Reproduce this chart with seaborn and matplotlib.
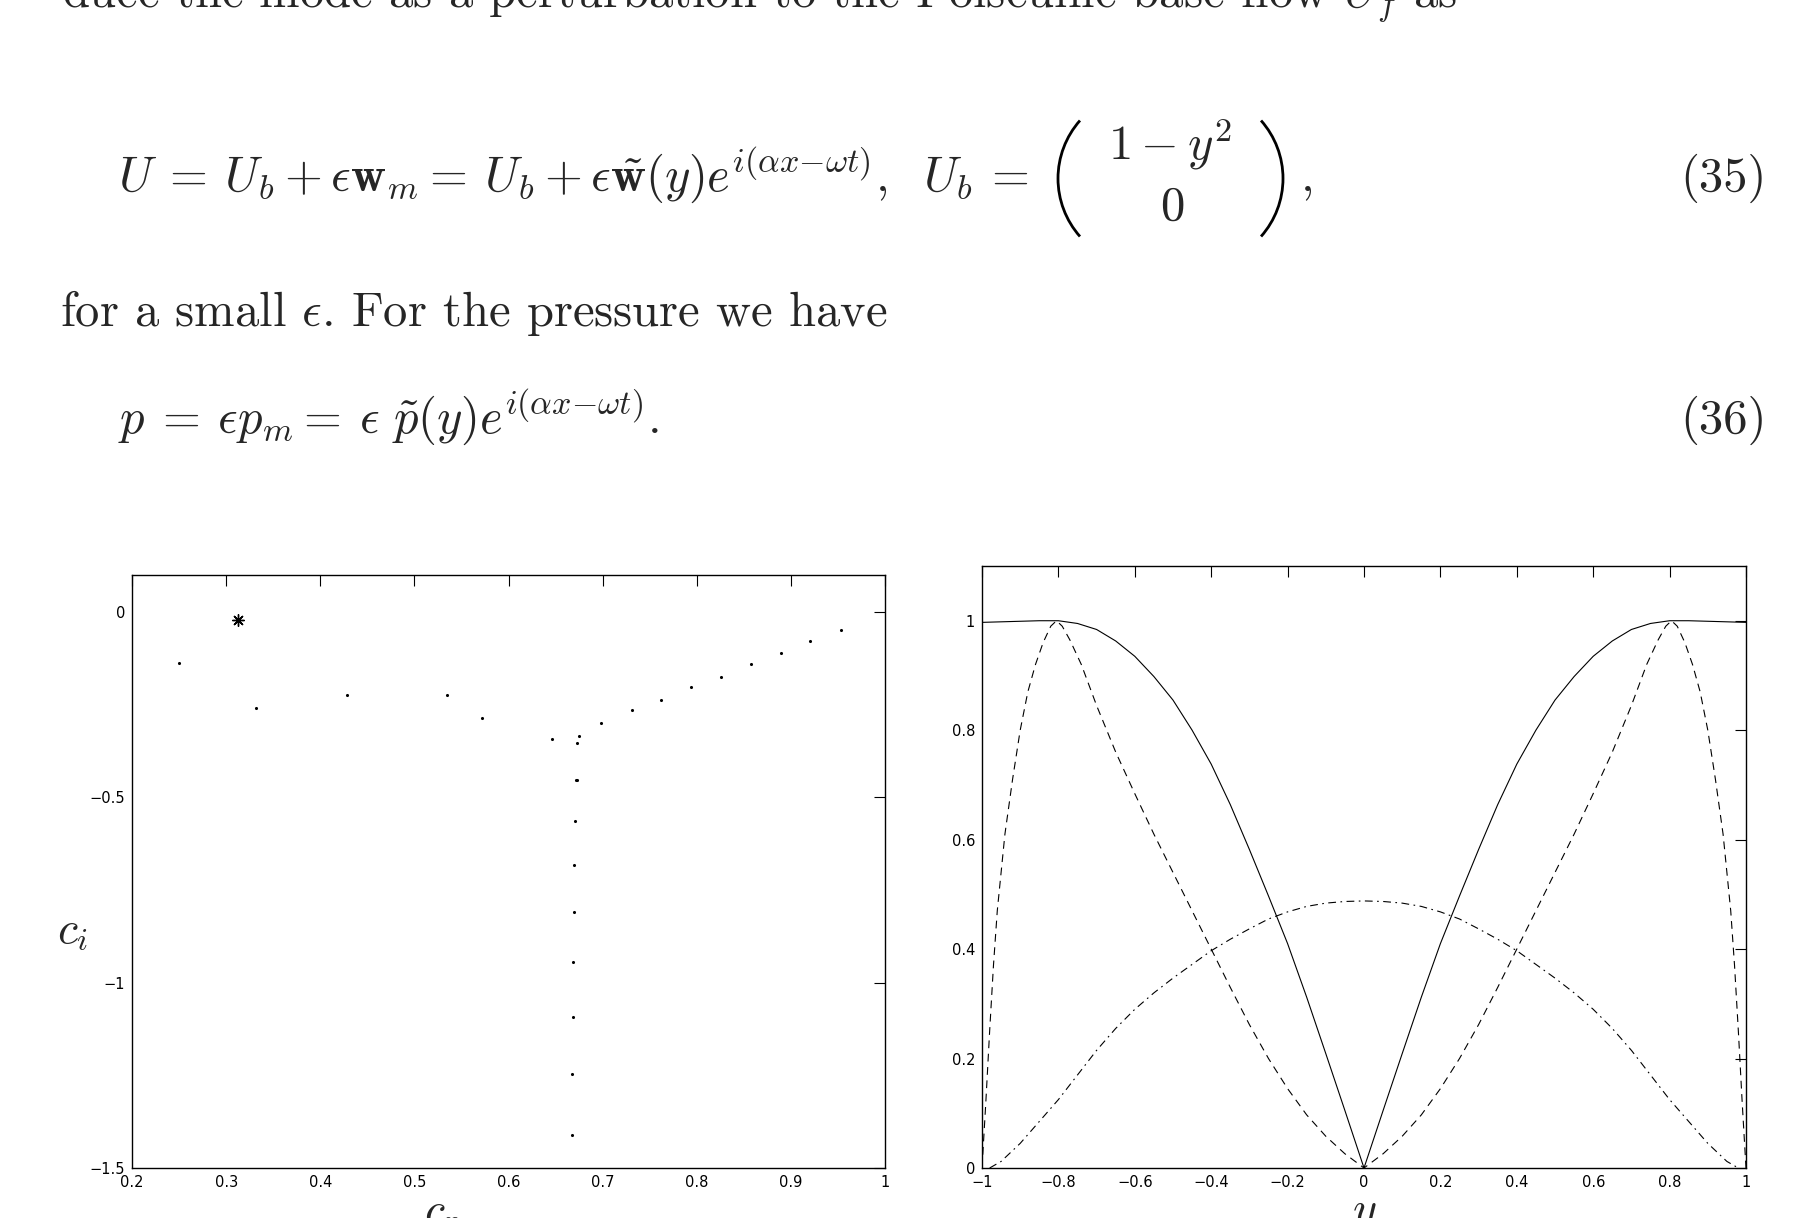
import matplotlib
matplotlib.use('Agg')
import matplotlib.pyplot as plt
import pandas as pd
import seaborn as sns
from matplotlib.patches import Arc
from matplotlib.ticker import FuncFormatter

W, H = 1796, 1218

# Left panel: eigenvalue spectrum (c_r, c_i)
cr_modes = [0.2501, 0.3316, 0.4288, 0.5342, 0.5715, 0.6466, 0.6745, 0.6728,
            0.6984, 0.7316, 0.7624, 0.7939, 0.8259, 0.8573, 0.8894, 0.9208,
            0.9528, 0.6714, 0.6732, 0.6710, 0.6699, 0.6693, 0.6687, 0.6681,
            0.6675, 0.6675]
ci_modes = [-0.1379, -0.2599, -0.2249, -0.2237, -0.2859, -0.3412, -0.3333,
            -0.3537, -0.2983, -0.2633, -0.2384, -0.2023, -0.1740, -0.1401,
            -0.1107, -0.0780, -0.0475, -0.4531, -0.4531, -0.5643, -0.6823,
            -0.8088, -0.9449, -1.0920, -1.2472, -1.4109]
cr_star = [0.3124]
ci_star = [-0.0215]

# Right panel: eigenfunction moduli against y
y_solid = [-1.0, -0.95, -0.9, -0.85, -0.8, -0.75, -0.7, -0.65, -0.6, -0.55,
           -0.5, -0.45, -0.4, -0.35, -0.3, -0.25, -0.2, -0.15, -0.1, -0.05,
           0.0, 0.05, 0.1, 0.15, 0.2, 0.25, 0.3, 0.35, 0.4, 0.45, 0.5, 0.55,
           0.6, 0.65, 0.7, 0.75, 0.8, 0.85, 0.9, 0.95, 1.0]
u_solid = [0.997, 0.998, 0.999, 1.0, 1.0, 0.995, 0.984, 0.963, 0.935, 0.898,
           0.855, 0.800, 0.738, 0.664, 0.582, 0.497, 0.410, 0.312, 0.209,
           0.105, 0.0, 0.105, 0.209, 0.312, 0.410, 0.497, 0.582, 0.664, 0.738,
           0.800, 0.855, 0.898, 0.935, 0.963, 0.984, 0.995, 1.0, 1.0, 0.999,
           0.998, 0.997]

y_dashed = [-1.0, -0.99, -0.98, -0.97, -0.96, -0.94, -0.92, -0.9, -0.88,
            -0.86, -0.84, -0.82, -0.805, -0.79, -0.77, -0.74, -0.7, -0.65,
            -0.6, -0.55, -0.5, -0.45, -0.4, -0.35, -0.3, -0.25, -0.2, -0.15,
            -0.1, -0.05, 0.0, 0.05, 0.1, 0.15, 0.2, 0.25, 0.3, 0.35, 0.4, 0.45,
            0.5, 0.55, 0.6, 0.65, 0.7, 0.74, 0.77, 0.79, 0.805, 0.82, 0.84,
            0.86, 0.88, 0.9, 0.92, 0.94, 0.96, 0.97, 0.98, 0.99, 1.0]
v_dashed = [0.0, 0.12, 0.25, 0.37, 0.47, 0.61, 0.71, 0.80, 0.87, 0.92, 0.96,
            0.99, 1.0, 0.99, 0.965, 0.92, 0.845, 0.76, 0.684, 0.61, 0.54,
            0.47, 0.40, 0.33, 0.262, 0.20, 0.145, 0.097, 0.058, 0.026, 0.0,
            0.026, 0.058, 0.097, 0.145, 0.20, 0.262, 0.33, 0.40, 0.47, 0.54,
            0.61, 0.684, 0.76, 0.845, 0.92, 0.965, 0.99, 1.0, 0.99, 0.96,
            0.92, 0.87, 0.80, 0.71, 0.61, 0.47, 0.37, 0.25, 0.12, 0.0]

y_dashdot = [-0.98, -0.95, -0.9, -0.85, -0.8, -0.75, -0.7, -0.65, -0.6,
             -0.55, -0.5, -0.45, -0.4, -0.35, -0.3, -0.25, -0.2, -0.15, -0.1,
             -0.05, 0.0, 0.05, 0.1, 0.15, 0.2, 0.25, 0.3, 0.35, 0.4, 0.45, 0.5,
             0.55, 0.6, 0.65, 0.7, 0.75, 0.8, 0.85, 0.9, 0.95, 0.98]
p_dashdot = [0.0, 0.012, 0.045, 0.085, 0.125, 0.17, 0.215, 0.255, 0.29, 0.32,
             0.347, 0.372, 0.397, 0.418, 0.437, 0.455, 0.468, 0.478, 0.484,
             0.487, 0.488, 0.487, 0.484, 0.478, 0.468, 0.455, 0.437, 0.418,
             0.397, 0.372, 0.347, 0.32, 0.29, 0.255, 0.215, 0.17, 0.125, 0.085,
             0.045, 0.012, 0.0]

left_xticks = [0.2, 0.3, 0.4, 0.5, 0.6, 0.7, 0.8, 0.9, 1.0]
left_yticks = [-1.5, -1.0, -0.5, 0.0]
right_xticks = [-1.0, -0.8, -0.6, -0.4, -0.2, 0.0, 0.2, 0.4, 0.6, 0.8, 1.0]
right_yticks = [0.0, 0.2, 0.4, 0.6, 0.8, 1.0]

sns.set_theme(style='white')
plt.rcParams['mathtext.fontset'] = 'cm'
plt.rcParams['font.family'] = ['DejaVu Sans']
plt.rcParams['axes.unicode_minus'] = True

fig = plt.figure(figsize=(W / 100, H / 100), dpi=100)
fig.patch.set_facecolor('white')

FS = 35


def put(x, y, s, fs=FS, **kw):
  # place text by its baseline, in pixels from the top-left corner
  fig.text(x / W, 1 - y / H, s, va='baseline', fontsize=fs, **kw)


body = dict(family='cmr10')
put(62, 7, r'duce the mode as a perturbation to the Poiseuille base flow $U_f$ as', **body)
put(118, 191, r'$U \:=\: U_b + \epsilon\mathbf{w}_m =\: U_b + \epsilon\tilde{\mathbf{w}}(y)'
              r'e^{i(\alpha x{-}\omega t)},\;\ U_b \:=\:$')
put(1108, 160, r'$1-y^2$')
put(1160, 220, r'$0$')
put(1300, 191, r'$,$')
put(1767, 191, r'(35)', ha='right', **body)
put(60, 326, r'for a small $\epsilon$. For the pressure we have', **body)
put(118, 433, r'$p \:=\: \epsilon p_m =\: \epsilon\ \tilde{p}(y)e^{i(\alpha x{-}\omega t)}.$')
put(1767, 433, r'(36)', ha='right', **body)

# big parentheses of the column vector, drawn on a pixel overlay
over = fig.add_axes([0, 0, 1, 1], zorder=-1)
over.set_xlim(0, W)
over.set_ylim(H, 0)
over.axis('off')
over.add_patch(Arc((1145.5, 178.5), 175, 175, theta1=138.5, theta2=221.5,
                   color='black', lw=2.0))
over.add_patch(Arc((1195.5, 178.5), 175, 175, theta1=-41.5, theta2=41.5,
                   color='black', lw=2.0))

ax1 = fig.add_axes([132 / W, 1 - 1168 / H, (885 - 132) / W, (1168 - 575) / H])
ax2 = fig.add_axes([982 / W, 1 - 1168 / H, (1746 - 982) / W, (1168 - 566) / H])

spec = pd.DataFrame({'cr': cr_modes, 'ci': ci_modes})
sns.scatterplot(data=spec, x='cr', y='ci', ax=ax1, color='black', marker='o',
                s=5, linewidth=0)
sns.scatterplot(x=cr_star, y=ci_star, ax=ax1, color='black', marker=(8, 2, 0),
                s=70, linewidth=1.0)
ax1.set_xlim(0.2, 1.0)
ax1.set_ylim(-1.5, 0.1)
ax1.set_xticks(left_xticks)
ax1.set_yticks(left_yticks)

sns.lineplot(x=y_solid, y=u_solid, ax=ax2, color='black', linewidth=0.8,
             sort=False, estimator=None)
sns.lineplot(x=y_dashed, y=v_dashed, ax=ax2, color='black', linewidth=0.8,
             linestyle=(0, (7, 5)), sort=False, estimator=None)
sns.lineplot(x=y_dashdot, y=p_dashdot, ax=ax2, color='black', linewidth=0.8,
             linestyle=(0, (7, 4, 1.5, 4)), sort=False, estimator=None)
ax2.set_xlim(-1.0, 1.0)
ax2.set_ylim(0.0, 1.1)
ax2.set_xticks(right_xticks)
ax2.set_yticks(right_yticks)

fmt = FuncFormatter(lambda v, pos: ('%g' % round(v, 3)).replace('-', '\u2212')
                    if abs(v) > 1e-9 else '0')
for ax in (ax1, ax2):
  ax.set_xlabel('')
  ax.set_ylabel('')
  ax.xaxis.set_major_formatter(fmt)
  ax.yaxis.set_major_formatter(fmt)
  ax.tick_params(direction='in', length=8, width=0.8, top=True, right=True,
                 labelsize=10.5, pad=5, colors='black')
  for sp in ax.spines.values():
    sp.set_color('black')
    sp.set_linewidth(1.0)
  ax.set_facecolor('white')
  ax.grid(False)

put(57, 943, r'$c_i$', fs=33)
put(424, 1224, r'$c_r$', fs=33)
put(1352, 1222, r'$y$', fs=33)

fig.savefig('out.png', dpi=100, facecolor='white')
